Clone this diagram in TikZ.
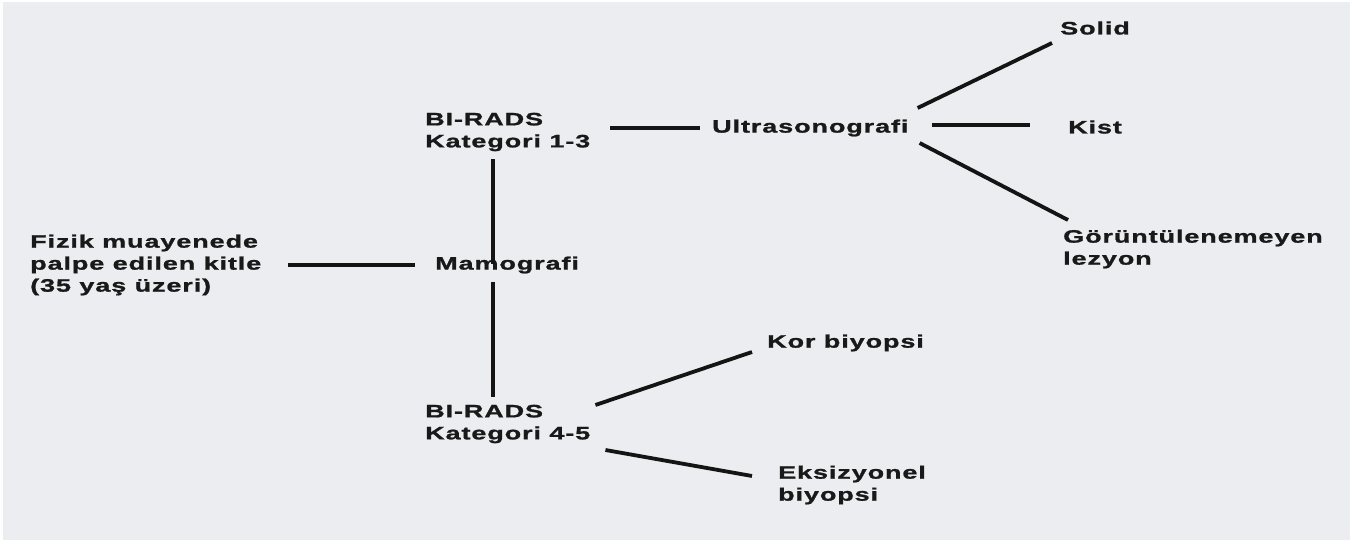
\documentclass[tikz,border=0pt]{standalone}
\usepackage{fontspec}
\setmainfont{Liberation Sans}[BoldFeatures={FakeStretch=1.5,LetterSpace=5,FakeBold=1.2}]
\definecolor{bg}{RGB}{236,237,240}
\tikzset{
  lbl/.style={anchor=west,inner sep=0pt,align=left,font=\bfseries\fontsize{18}{22}\selectfont,text=black!90},
  conn/.style={line width=3.8pt,black!92}
}
\begin{document}
\begin{tikzpicture}[x=1pt,y=-1pt]
\fill[white] (0,0) rectangle (1350,540);
\fill[bg] (3,2) rectangle (1350,540);
\useasboundingbox (0,0) rectangle (1350,540);
\node[lbl] (fizik) at (30,265) {Fizik muayenede\\palpe edilen kitle\\(35 yaş üzeri)};
\node[lbl] (mamo) at (435,265) {Mamografi};
\node[lbl] (bi13) at (425,132) {BI-RADS\\Kategori 1-3};
\node[lbl] (ultra) at (712,128) {Ultrasonografi};
\node[lbl] (solid) at (1060,28) {Solid};
\node[lbl] (kist) at (1068,127) {Kist};
\node[lbl] (gor) at (1063,249) {Görüntülenemeyen\\lezyon};
\node[lbl] (bi45) at (425,424) {BI-RADS\\Kategori 4-5};
\node[lbl] (kor) at (767,343) {Kor biyopsi};
\node[lbl] (eks) at (778,485) {Eksizyonel\\biyopsi};
% connectors
\draw[conn] ([xshift=27pt]fizik.east |- mamo.west) -- ([xshift=-20pt]mamo.west);
\draw[conn] ([xshift=20pt]bi13.east |- ultra.west) -- ([xshift=-12pt]ultra.west);
\draw[conn] ([xshift=68pt,yshift=-8pt]bi13.south west) -- ([xshift=68pt,yshift=-8pt]bi13.south west |- mamo.north);
\draw[conn] ([xshift=58pt,yshift=-8pt]mamo.south west) -- ([xshift=68pt,yshift=8pt]bi45.north west);
\draw[conn] ([xshift=9pt,yshift=20pt]ultra.east) -- ([xshift=-8pt,yshift=-15pt]solid.west);
\draw[conn] ([xshift=23pt,yshift=3pt]ultra.east) -- ([xshift=-38pt,yshift=2pt]kist.west);
\draw[conn] ([xshift=11pt,yshift=-15pt]ultra.east) -- ([xshift=5pt,yshift=29pt]gor.west);
\draw[conn] ([xshift=5pt,yshift=19pt]bi45.east) -- ([xshift=-15pt,yshift=-9pt]kor.west);
\draw[conn] ([xshift=15pt,yshift=-26pt]bi45.east) -- ([xshift=-26pt,yshift=9pt]eks.west);
\end{tikzpicture}
\end{document}
